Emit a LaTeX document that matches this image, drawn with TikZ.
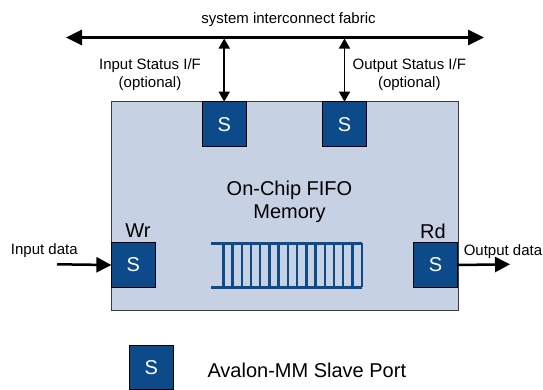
\documentclass[tikz,border=0pt]{standalone}
\usepackage{fontspec}
\setmainfont{Liberation Sans}
\usetikzlibrary{arrows.meta}
\definecolor{boxfill}{RGB}{198,209,227}
\definecolor{portblue}{RGB}{12,74,138}
\definecolor{boxedge}{RGB}{60,60,60}
\tikzset{
  sport/.style={draw=black, line width=1.3pt, fill=portblue, text=white,
    minimum width=44pt, minimum height=45pt, inner sep=0pt, outer sep=0pt,
    font=\fontsize{20}{24}\selectfont},
  mainbox/.style={draw=boxedge, line width=0.9pt, fill=boxfill,
    minimum width=347pt, minimum height=209pt, inner sep=0pt, outer sep=0pt},
  smalltxt/.style={font=\fontsize{15}{17.6}\selectfont, align=center, inner sep=0pt},
  bigtxt/.style={font=\fontsize{20}{22.6}\selectfont, align=center, inner sep=0pt},
  busline/.style={line width=3pt, {Triangle[length=16pt,width=15pt]}-{Triangle[length=16pt,width=15pt]}},
  ifline/.style={line width=1.5pt, {Triangle[length=10pt,width=11pt]}-{Triangle[length=10pt,width=11pt]}},
  dataline/.style={line width=2.5pt, -{Triangle[length=15pt,width=15pt]}},
  fifoline/.style={draw=portblue, line width=2.4pt}
}
\begin{document}
\begin{tikzpicture}[x=1pt,y=-1pt]
\useasboundingbox (0,0) rectangle (543,389);
% bus
\node[smalltxt] (fabric) at (288.5,19.5) {system interconnect fabric};
\coordinate (busL) at (66,37.5);
\coordinate (busR) at (484,37.5);
\draw[busline] (busL) -- (busR);
% main box
\node[mainbox] (mem) at (284.5,205.5) {};
\node[bigtxt] (memtxt) at (289.5,202) {On-Chip FIFO\\Memory};
% ports
\node[sport] (pin) at (224.2,124.2) {S};
\node[sport] (pout) at (344.5,124.2) {S};
\node[sport] (wr) at (133.4,265) {S};
\node[sport] (rd) at (435.6,265) {S};
% interface arrows
\coordinate (j1) at (224.2,38.5);
\coordinate (j2) at (344.5,38.5);
\draw[ifline] (j1) -- (pin.north);
\draw[ifline] (j2) -- (pout.north);
\node[smalltxt] (inlbl) at (150,74.5) {Input Status I/F\\(optional)};
\node[smalltxt] (outlbl) at (409.3,74.5) {Output Status I/F\\(optional)};
% labels Wr Rd
\node[bigtxt] (wrlbl) at (138,231) {Wr};
\node[bigtxt] (rdlbl) at (433,231) {Rd};
% data arrows
\coordinate (inL) at (57,264.3);
\coordinate (outR) at (510,264.3);
\draw[dataline] (inL) -- (wr.west);
\draw[dataline] (rd.east) -- (outR);
\node[smalltxt] (indata) at (44.3,250.7) {Input data};
\node[smalltxt] (outdata) at (503,251.7) {Output data};
% FIFO graphic
\draw[fifoline] (211,243.3) -- (361.7,243.3);
\draw[fifoline] (211,287.3) -- (361.7,287.3);
\foreach \i in {0,...,15} {
  \draw[fifoline] ({223.3+9.227*\i},243.3) -- ({223.3+9.227*\i},287.3);
}
% legend
\node[sport, minimum height=44pt] (leg) at (151.3,367.7) {S};
\node[bigtxt, anchor=west] (legtxt) at (207.3,370) {Avalon-MM Slave Port};
\end{tikzpicture}
\end{document}
